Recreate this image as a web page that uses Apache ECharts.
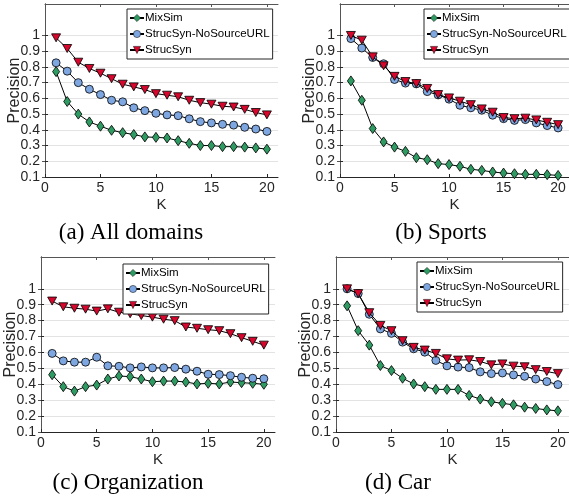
<!DOCTYPE html>
<html>
<head>
<meta charset="utf-8">
<script src="https://cdn.jsdelivr.net/npm/echarts@6/dist/echarts.min.js"></script>
<style>
html,body{margin:0;padding:0;background:#fff;}
#chart{width:569px;height:499px;}
</style>
</head>
<body>
<div id="chart"></div>
<script>
const K = [1,2,3,4,5,6,7,8,9,10,11,12,13,14,15,16,17,18,19,20];
const xTicks = [0,5,10,15,20];
const yTicks = [0.1,0.2,0.3,0.4,0.5,0.6,0.7,0.8,0.9,1];
const seriesNames = ['MixSim','StrucSyn-NoSourceURL','StrucSyn'];
const captions = ['(a) All domains','(b) Sports','(c) Organization','(d) Car'];

const a_mix = [0.77,0.58,0.50,0.45,0.423,0.397,0.382,0.37,0.355,0.352,0.348,0.331,0.314,0.30,0.30,0.293,0.293,0.29,0.285,0.277];
const a_nos = [0.826,0.773,0.70,0.658,0.624,0.588,0.578,0.54,0.522,0.505,0.495,0.49,0.47,0.452,0.444,0.435,0.43,0.416,0.405,0.39];
const a_str = [0.985,0.917,0.83,0.79,0.76,0.725,0.69,0.673,0.656,0.63,0.62,0.61,0.588,0.573,0.563,0.55,0.545,0.53,0.51,0.495];

const b_mix = [0.711,0.588,0.408,0.323,0.29,0.263,0.223,0.21,0.185,0.179,0.168,0.149,0.142,0.132,0.125,0.121,0.117,0.117,0.115,0.11];
const b_nos = [0.98,0.92,0.86,0.82,0.72,0.697,0.692,0.643,0.622,0.595,0.556,0.54,0.525,0.493,0.471,0.46,0.465,0.444,0.427,0.412];
const b_str = [1.0,0.97,0.864,0.807,0.74,0.707,0.694,0.663,0.624,0.603,0.582,0.56,0.533,0.512,0.478,0.471,0.474,0.463,0.448,0.433];

const c_mix = [0.46,0.385,0.357,0.385,0.395,0.433,0.452,0.448,0.433,0.416,0.42,0.42,0.414,0.402,0.406,0.402,0.414,0.41,0.406,0.40];
const c_nos = [0.594,0.547,0.539,0.539,0.57,0.516,0.513,0.503,0.509,0.503,0.503,0.505,0.495,0.482,0.463,0.461,0.454,0.444,0.438,0.435];
const c_str = [0.923,0.887,0.878,0.872,0.86,0.874,0.853,0.843,0.832,0.822,0.809,0.80,0.76,0.752,0.743,0.737,0.718,0.693,0.67,0.646];

const d_mix = [0.893,0.737,0.646,0.518,0.486,0.438,0.402,0.385,0.368,0.368,0.368,0.33,0.307,0.29,0.28,0.271,0.256,0.248,0.239,0.233];
const d_nos = [1.0,0.97,0.84,0.748,0.72,0.665,0.623,0.602,0.55,0.516,0.508,0.505,0.478,0.467,0.471,0.459,0.45,0.433,0.417,0.398];
const d_str = [1.0,0.97,0.85,0.77,0.737,0.674,0.632,0.615,0.594,0.56,0.552,0.554,0.543,0.522,0.528,0.514,0.51,0.492,0.48,0.467];

const panels = [[a_mix,a_nos,a_str],[b_mix,b_nos,b_str],[c_mix,c_nos,c_str],[d_mix,d_nos,d_str]];

const gridPos = [
  {left:45, top:4, width:233, height:173},
  {left:340, top:4, width:233, height:173},
  {left:41, top:257, width:234, height:175},
  {left:336, top:257, width:234, height:175}
];
const legendPos = [
  {left:127, top:9},
  {left:424, top:9},
  {left:123, top:264},
  {left:417, top:262}
];
const captionPos = [[131,233],[441,233],[128,483],[398,483]];

const styles = [
  {symbol:'diamond', size:[7,10], color:'#2e9c62', rotate:0},
  {symbol:'circle', size:8, color:'#7ea7e1', rotate:0},
  {symbol:'triangle', size:[9,8], color:'#d6062c', rotate:180}
];

const FONT = 'Liberation Sans, Arial, sans-serif';
const gridColors = yTicks.map(()=> '#e3e3e3').concat(['rgba(0,0,0,0)','rgba(0,0,0,0)']);

const grid = [], xAxis = [], yAxis = [], series = [], legend = [];
gridPos.forEach((g, i) => {
  grid.push(Object.assign({containLabel:false}, g));
  xAxis.push({
    type:'value', gridIndex:i, min:0, max:21, interval:5,
    name:'K', nameLocation:'middle', nameGap:20, nameMoveOverlap:false,
    nameTextStyle:{fontFamily:FONT, fontSize:15, color:'#262626'},
    axisLine:{show:true, lineStyle:{color:'#262626', width:1}},
    axisTick:{show:true, inside:true, length:3, customValues:xTicks, lineStyle:{color:'#262626'}},
    axisLabel:{customValues:xTicks, fontFamily:FONT, fontSize:14, color:'#262626', margin:4},
    splitLine:{show:false}
  });
  xAxis.push({
    type:'value', gridIndex:i, min:0, max:21, interval:5, position:'top',
    axisLine:{show:true, lineStyle:{color:'#555', width:1}},
    axisTick:{show:true, inside:true, length:3, customValues:xTicks, lineStyle:{color:'#555'}},
    axisLabel:{show:false}, splitLine:{show:false}
  });
  yAxis.push({
    type:'value', gridIndex:i, min:0.1, max:1.2, interval:0.1,
    name:'Precision', nameLocation:'middle', nameGap:22, nameRotate:90, nameMoveOverlap:false,
    nameTextStyle:{fontFamily:FONT, fontSize:16, color:'#262626'},
    axisLine:{show:true, lineStyle:{color:'#262626', width:1}},
    axisTick:{show:true, inside:true, length:3, customValues:yTicks, lineStyle:{color:'#262626'}},
    axisLabel:{customValues:yTicks, fontFamily:FONT, fontSize:14, color:'#262626', margin:5,
      formatter:(v)=> (Math.round(v*10)/10).toString()},
    splitLine:{show:true, lineStyle:{color:gridColors, width:1}}
  });
  yAxis.push({
    type:'value', gridIndex:i, min:0.1, max:1.2, interval:0.1, position:'right',
    axisLine:{show:true, lineStyle:{color:'#555', width:1}},
    axisTick:{show:true, inside:true, length:3, customValues:yTicks, lineStyle:{color:'#555'}},
    axisLabel:{show:false}, splitLine:{show:false}
  });
  panels[i].forEach((vals, s) => {
    const st = styles[s];
    series.push({
      type:'line', name:seriesNames[s], xAxisIndex:2*i, yAxisIndex:2*i,
      data:K.map((k, j) => [k, vals[j]]),
      symbol:st.symbol, symbolSize:st.size, symbolRotate:st.rotate,
      showAllSymbol:true, z:2+s,
      lineStyle:{color:'#000', width:1},
      itemStyle:{color:st.color, borderColor:'#000', borderWidth:0.8},
      emphasis:{disabled:true}, animation:false
    });
  });
  legend.push({
    data:seriesNames.map((n, s) => ({
      name:n,
      itemStyle:{color:styles[s].color, borderColor:'#000', borderWidth:0.5}
    })),
    orient:'vertical', left:legendPos[i].left, top:legendPos[i].top,
    backgroundColor:'#fff', borderColor:'#262626', borderWidth:1, borderRadius:0,
    padding:[2,3,2,2], itemGap:2, itemWidth:14, itemHeight:9,
    textStyle:{fontFamily:FONT, fontSize:11.5, color:'#000', padding:[0,0,0,-4], lineHeight:14},
    selectedMode:false, z:10
  });
});

const chart = echarts.init(document.getElementById('chart'), null, {renderer:'canvas'});
chart.setOption({
  animation:false,
  backgroundColor:'#fff',
  grid, xAxis, yAxis, series, legend,
  graphic: captions.map((c, i) => ({
    type:'text', x:captionPos[i][0], y:captionPos[i][1],
    style:{text:c, font:'23px "Liberation Serif", serif', fill:'#000', align:'center', verticalAlign:'middle'}
  }))
});
</script>
</body>
</html>
